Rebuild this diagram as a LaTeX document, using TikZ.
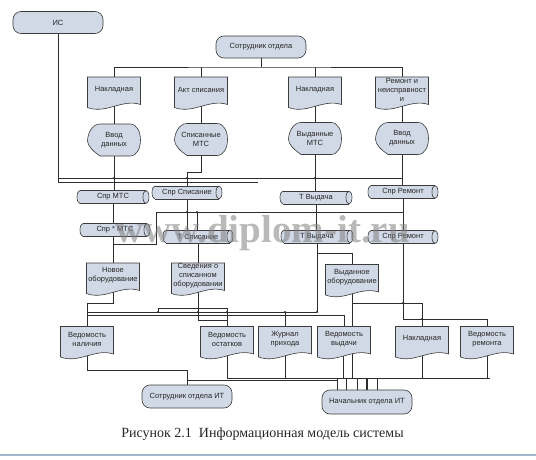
\documentclass[tikz,border=0pt]{standalone}
\usepackage{fontspec}
\setmainfont{Liberation Sans}
\newfontfamily\capfont{Liberation Serif}
\usetikzlibrary{backgrounds}
\definecolor{shfill}{RGB}{209,217,230}
\definecolor{shdraw}{RGB}{60,60,60}
\definecolor{lncol}{RGB}{45,45,45}
\tikzset{
 lbl/.style={font=\fontsize{7.5}{9}\selectfont, text=black!85, align=center, inner sep=0pt},
 termnode/.style={lbl, draw=shdraw, fill=shfill, rounded corners=8pt, minimum width=90pt, minimum height=22pt, line width=0.6pt},
 docnode/.style={lbl, minimum width=53pt, minimum height=25pt},
 dispnode/.style={lbl, minimum width=53pt, minimum height=32pt},
 cylnode/.style={lbl, minimum height=13pt},
 shapeline/.style={draw=shdraw, fill=shfill, line width=0.6pt},
 conn/.style={draw=lncol, line width=0.6pt},
 jdot/.style={fill=lncol, circle, inner sep=0pt, minimum size=2.4pt},
}
\newcommand\docshape[4]{%
 \path[shapeline] (#2-26.5,#3-12.5) -- (#2+26.5,#3-12.5) -- (#2+26.5,#3+15) .. controls (#2+8,#3+9) and (#2-8,#3+25) .. (#2-26.5,#3+18) -- cycle;
 \node[docnode] (#1) at (#2,#3) {#4};}
\newcommand\dispshape[4]{%
 \path[shapeline] (#2-14,#3-16) -- (#2+16,#3-16) .. controls (#2+30,#3-16) and (#2+30,#3+16) .. (#2+16,#3+16) -- (#2-14,#3+16) .. controls (#2-20,#3+12) and (#2-26.5,#3+6) .. (#2-26.5,#3+1) .. controls (#2-26.5,#3-6) and (#2-22,#3-16) .. (#2-14,#3-16) -- cycle;
 \node[dispnode] (#1) at (#2,#3) {#4};}
\newcommand\cylshape[5]{%
 \path[shapeline] (#2-#4+3,#3) ellipse [x radius=3pt, y radius=6.5pt];
 \path[fill=shfill] (#2-#4+3,#3-6.5) rectangle (#2+#4-3,#3+6.5);
 \draw[shdraw, line width=0.6pt] (#2-#4+3,#3-6.5) -- (#2+#4-3,#3-6.5) (#2-#4+3,#3+6.5) -- (#2+#4-3,#3+6.5);
 \path[shapeline] (#2+#4-3,#3) ellipse [x radius=3pt, y radius=6.5pt];
 \node[cylnode, minimum width={2*#4pt}] (#1) at (#2,#3) {#5};}
\begin{document}
\begin{tikzpicture}[x=1pt,y=-1pt]
\useasboundingbox (0,0) rectangle (536,460);
% terminators
\node[termnode] (is) at (58,22.5) {ИС};
\node[termnode] (sotr) at (261,47) {Сотрудник отдела};
\node[termnode, minimum height=23pt] (sotrit) at (187,396.5) {Сотрудник отдела ИТ};
\node[termnode, minimum height=24pt] (nachit) at (367,402) {Начальник отдела ИТ};
% documents row 1
\docshape{d1}{114}{89.5}{Накладная}
\docshape{d2}{201}{89.5}{Акт списания}
\docshape{d3}{315}{89.5}{Накладная}
\docshape{d4}{402}{89.5}{Ремонт и\\неисправност\\и}
% displays
\dispshape{v1}{114}{140}{Ввод\\данных}
\dispshape{v2}{201}{139.5}{Списанные\\МТС}
\dispshape{v3}{315}{138.5}{Выданные\\МТС}
\dispshape{v4}{402}{138.5}{Ввод\\данных}
% stores row A
\cylshape{ca1}{113}{197}{36}{Спр МТС}
\cylshape{ca2}{187}{192.5}{35}{Спр Списание}
\cylshape{ca3}{316}{197.5}{36}{Т Выдача}
\cylshape{ca4}{403}{192}{35}{Спр Ремонт}
% stores row B
\cylshape{cb1}{115}{230}{35}{Спр * МТС}
\cylshape{cb2}{198}{236.5}{35}{Т Списание}
\cylshape{cb3}{317}{236.5}{36}{Т Выдача}
\cylshape{cb4}{403}{237}{35}{Спр Ремонт}
% documents row 3
\docshape{e1}{113}{275.5}{Новое\\оборудование}
\docshape{e2}{198}{275.5}{Сведения о\\списанном\\оборудовании}
\docshape{e3}{352}{277}{Выданное\\оборудование}
% documents row 4
\docshape{f1}{87}{339}{Ведомость\\наличия}
\docshape{f2}{227}{339}{Ведомость\\остатков}
\docshape{f3}{285}{339}{Журнал\\прихода}
\docshape{f4}{344}{339}{Ведомость\\выдачи}
\docshape{f5}{422}{339}{Накладная}
\docshape{f6}{487}{339}{Ведомость\\ремонта}
% connectors
\begin{scope}[on background layer]
\coordinate (b1) at (261,67);
\draw[conn] (sotr.south) -- (b1);
\draw[conn] (d1.north) |- (b1) -| (d4.north);
\draw[conn] (d2.north) -- (d2.north |- b1);
\draw[conn] (d3.north) -- (d3.north |- b1);
\foreach \i in {1,2,3,4} {\draw[conn] (d\i.south) -- (v\i.north);}
\coordinate (bA) at (403,178);
\coordinate (bB) at (258,182);
\draw[conn] (is.south) |- (bA);
\draw[conn] (is.south) |- (bB);
\draw[conn] (v1.south) -- (v1.south |- ca1.north);
\draw[conn] (v2.south) -- ++(0,17) -| (ca2.north);
\draw[conn] (v3.south) -- (v3.south |- ca3.north);
\draw[conn] (v4.south) -- (v4.south |- ca4.north);
\draw[conn] (ca1.south) -- (ca1.south |- cb1.north);
\draw[conn] (ca2.south) -- (ca2.south |- cb2.north);
\coordinate (k212) at (156,212);
\draw[conn] (197,212) -- (197,230);
\draw[conn] (ca3.south) -- (ca3.south |- cb3.north);
\draw[conn] (ca4.south) -- (ca4.south |- cb4.north);
\draw[conn] (113,244) -| (k212) -- (403,212);
\draw[conn] (e1.north |- cb1.south) -- (e1.north);
\draw[conn] (cb2.south) -- (e2.north);
\coordinate (b312) at (317,312);
\draw[conn] (cb3.south) -- (b312);
\draw[conn] ([yshift=-10.5pt]cb3.south) -| (e3.north);
\coordinate (k4) at (403,319);
\draw[conn] (cb4.south) -- (k4) -| (f6.north);
\draw[conn] (e1.south) -- ++(0,15) -| (f1.north);
\draw[conn] (87,312) -- (b312);
\draw[conn] (87,315) -| (f4.north);
\draw[conn] (f3.north) -- (f3.north |- b312);
\coordinate (k2) at (198,320);
\draw[conn] (e2.south) -- (k2) -| (f2.north);
\draw[conn] (158,312) |- (227,308) -- (227,320);
\draw[conn] (e3.south) -- (e3.south |- f4.north);
\draw[conn] (352,303) -| (f5.north);
\coordinate (k378) at (490,378);
\draw[conn] (f1.south) -- ++(0,19) -| (sotrit.north);
\draw[conn] (f2.south) |- (k378);
\draw[conn] (sotrit.north) |- (337,380);
\draw[conn] (f3.south) -- (f3.south |- k378);
\draw[conn] ([xshift=-1pt]f4.south) -- ([xshift=-1pt]f4.south |- k378);
\draw[conn] ([xshift=8pt]f4.south) -- ([xshift=8pt]f4.south |- k378);
\draw[conn] (f5.south) -- (f5.south |- k378);
\draw[conn] (f6.south) -- (f6.south |- k378);
\draw[conn] (337,378) -- (337,391) -- (357,391) -- (357,378);
\draw[conn] (346,378) -- (346,391);
\draw[conn] (377,378) -- (377,391) -- (372,391);
\draw[conn, line width=1.1pt] (nachit.north |- k378) -- (nachit.north);
\end{scope}
% junction marks
\foreach \p in {(114,178),(187,178),(315,178),(187,212),(197,212),(158,312),(198,312),(227,312),(317,312),(285,312),(403,303),(422,319)}
 \node[jdot] at \p {};
% caption
\node[font=\capfont\fontsize{14}{16}\selectfont, anchor=base, text=black!85] (cap) at (262.5,437) {Рисунок 2.1\ \ Информационная модель системы};
\draw[color={rgb,255:red,160;green,182;blue,205}, line width=1.5pt] (0,455) -- (536,455);
% watermark
\node[font=\capfont\bfseries\fontsize{39}{40}\selectfont, text=gray, opacity=0.55, anchor=base] (wm) at (262.5,242) {www.diplom-it.ru};
\end{tikzpicture}
\end{document}
